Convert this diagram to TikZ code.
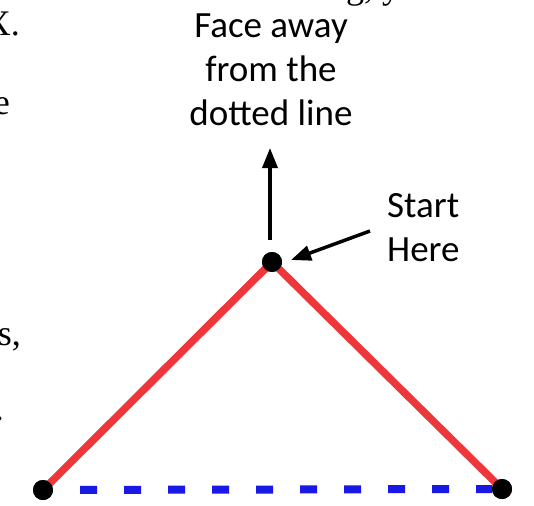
\documentclass[tikz,border=0pt]{standalone}
\usepackage{fontspec}
\setmainfont{Carlito}
\newfontfamily\seriffont{Liberation Serif}
\usetikzlibrary{arrows.meta}
\definecolor{linered}{RGB}{238,55,58}
\definecolor{lineblue}{RGB}{25,25,230}
\tikzset{
  dotnode/.style={circle,fill=black,inner sep=0pt,minimum size=20pt},
  sideline/.style={linered,line width=7.5pt},
  baseline dash/.style={lineblue,line width=8pt,dash pattern=on 17pt off 27pt,dash phase=17pt},
  pointer/.style={line width=3.5pt,-{Triangle[length=20pt,width=15pt]}},
  label/.style={font=\fontsize{37}{44}\selectfont,inner sep=0pt,align=center},
  stray/.style={font=\seriffont\fontsize{36}{40}\selectfont,inner sep=0pt}
}
\begin{document}
\begin{tikzpicture}[x=1pt,y=-1pt]
\useasboundingbox (0,0) rectangle (534,505);
% stray text from surrounding page
\node[stray,anchor=base east] (s1) at (20,36) {X.};
\node[stray,anchor=base east] (s2) at (10,115) {e};
\node[stray,anchor=base east] (s3) at (21,345) {s,};
\node[stray,anchor=base east] (s4) at (4,420) {.};
\node[stray,anchor=base west] (s5) at (346,-1) {g, y};
% points
\node[dotnode] (T) at (272,262) {};
\node[dotnode] (L) at (43,490) {};
\node[dotnode] (R) at (502,489) {};
% lines
\draw[sideline] (T.center) -- (L.center);
\draw[sideline] (T.center) -- (R.center);
\draw[baseline dash] (L.east) -- (R.west);
\node[dotnode] at (T) {};
\node[dotnode] at (L) {};
\node[dotnode] at (R) {};
% texts
\node[label] (face) at (271,70) {Face away\\from the\\dotted line};
\node[label,align=left,anchor=west] (start) at (387,228) {Start\\Here};
% arrows
\coordinate (up0) at (270,240);
\coordinate (up1) at (270,148);
\draw[pointer] (up0) -- (up1);
\coordinate (sh0) at (370,231);
\coordinate (sh1) at (291,260);
\draw[pointer] (sh0) -- (sh1);
\end{tikzpicture}
\end{document}
